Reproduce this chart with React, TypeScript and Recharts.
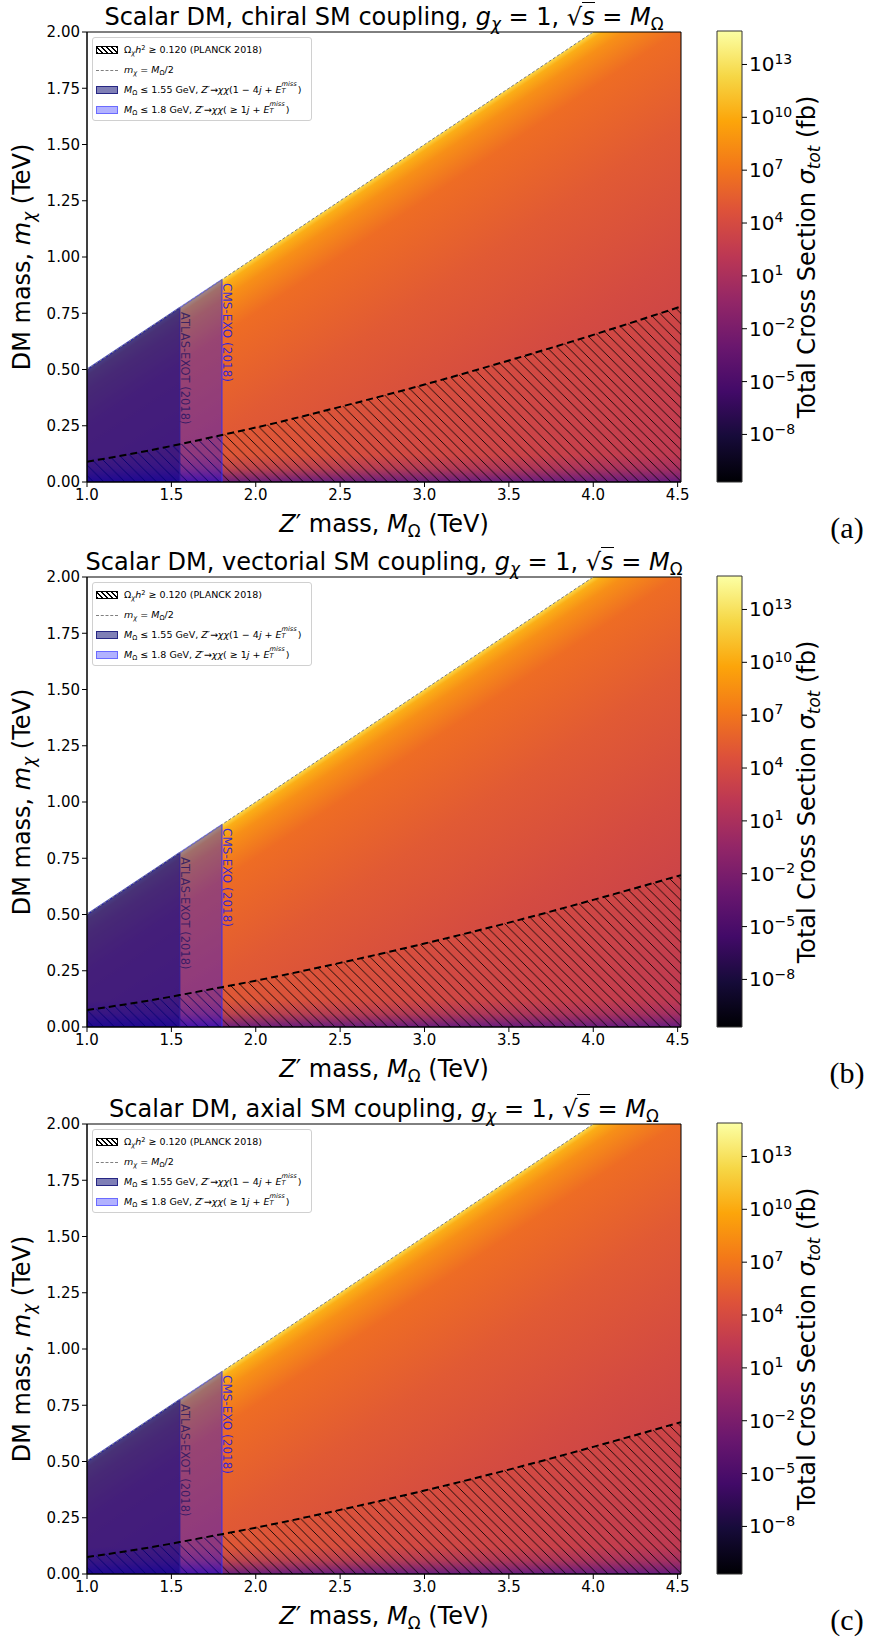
import React from 'react';
import {
  ComposedChart,
  Area,
  Line,
  XAxis,
  YAxis,
  ReferenceArea,
  ReferenceLine,
  ReferenceDot,
} from 'recharts';

const FONT = '"DejaVu Sans", "Noto Sans", sans-serif';

// ---------------- data ----------------
// Z' mass grid (TeV)
const massZ = [1.0, 1.5, 1.55, 1.8, 2.0, 2.5, 3.0, 3.5, 4.0, 4.52];
// upper edge of the coloured (kinematically open) region, m_chi <= M/2, capped at plot top
const kinematicEdge = [0.5, 0.75, 0.775, 0.9, 1.0, 1.25, 1.5, 1.75, 2.0, 2.0];
// m_chi = M/2 reference line
const halfMassLine = [0.5, 0.75, 0.775, 0.9, 1.0, 1.25, 1.5, 1.75, 2.0, null];
// relic density contour Omega h^2 = 0.120 for each coupling
const relicChiral = [0.09, 0.16, 0.168, 0.209, 0.242, 0.334, 0.433, 0.54, 0.654, 0.78];
const relicVectorial = [0.075, 0.135, 0.142, 0.177, 0.206, 0.285, 0.371, 0.464, 0.565, 0.675];
const relicAxial = [0.075, 0.135, 0.142, 0.177, 0.206, 0.285, 0.371, 0.464, 0.565, 0.675];
// experimental exclusion limits (Z' mass)
const atlasLimit = 1.55;
const cmsLimit = 1.8;
const atlasLabelAt = { M: 1.556, m: 0.755 };
const cmsLabelAt = { M: 1.806, m: 0.884 };
// low-m_chi suppressed band
const lowBandTop = 0.12;

const xTicks = [1.0, 1.5, 2.0, 2.5, 3.0, 3.5, 4.0, 4.5];
const yTicks = [0, 0.25, 0.5, 0.75, 1.0, 1.25, 1.5, 1.75, 2.0];
const xDomain: [number, number] = [1.0, 4.52];
const yDomain: [number, number] = [0, 2];

// colour bar: log10(sigma / fb)
const cbTicks = [-8, -5, -2, 1, 4, 7, 10, 13];
const cbDomain: [number, number] = [-10.7, 14.9];
const cbRows = [{ x: 0 }, { x: 1 }];

const couplings = ['chiral', 'vectorial', 'axial'];
const relicSets = [relicChiral, relicVectorial, relicAxial];
const panelLetters = ['(a)', '(b)', '(c)'];

// colours across the heat map (from threshold line toward bottom-right corner)
const heatStops: [number, string][] = [
  [0, '#fbd84a'],
  [0.012, '#fbae16'],
  [0.04, '#f78f17'],
  [0.11, '#ee6c24'],
  [0.3, '#e15a34'],
  [0.55, '#d44b41'],
  [0.8, '#c7404b'],
  [1.0, '#bb3755'],
];
const infernoStops: [number, string][] = [
  [0, '#000004'],
  [0.1, '#160b39'],
  [0.2, '#420a68'],
  [0.3, '#6a176e'],
  [0.4, '#932667'],
  [0.5, '#bc3754'],
  [0.6, '#dd513a'],
  [0.7, '#f37819'],
  [0.8, '#fca50a'],
  [0.9, '#f6d746'],
  [1.0, '#fcffa4'],
];

// ---------------- layout ----------------
const CHART_W = 700;
const CHART_H = 545;
const PLOT_LEFT = 87;
const PLOT_TOP = 32;
const PLOT_W = 594;
const PLOT_H = 450;
const PANEL_TOPS = [0, 545, 1092];

const Sub = ({ children }: { children: React.ReactNode }) => (
  <span style={{ fontSize: '0.7em', position: 'relative', top: '0.3em' }}>{children}</span>
);
const Sup = ({ children }: { children: React.ReactNode }) => (
  <span style={{ fontSize: '0.7em', position: 'relative', top: '-0.45em' }}>{children}</span>
);
const SubSup = ({ sub, sup }: { sub: string; sup: string }) => (
  <span
    style={{
      display: 'inline-block',
      position: 'relative',
      width: '2.45em',
      height: '1em',
      fontSize: '0.7em',
      lineHeight: 1,
      verticalAlign: 'top',
    }}
  >
    <span style={{ position: 'absolute', left: 0, top: '-0.55em' }}>
      <i>{sup}</i>
    </span>
    <span style={{ position: 'absolute', left: 0, top: '0.5em' }}>
      <i>{sub}</i>
    </span>
  </span>
);

const VertLabel = (props: any) => {
  const { viewBox, text, color, size, opacity } = props;
  const x = viewBox.x + viewBox.width / 2;
  const y = viewBox.y + viewBox.height / 2;
  return (
    <text
      x={x}
      y={y}
      transform={`rotate(90 ${x} ${y})`}
      fill={color}
      fillOpacity={opacity}
      fontSize={size}
      fontFamily={FONT}
      textAnchor="start"
    >
      {text}
    </text>
  );
};

const CbTick = (props: any) => {
  const { x, y, payload } = props;
  const e = payload.value as number;
  return (
    <text x={x} y={y} dy="0.35em" textAnchor="start" fontSize={20} fontFamily={FONT} fill="#000">
      10
      <tspan dy="-0.55em" fontSize={14}>
        {e < 0 ? `\u2212${-e}` : `${e}`}
      </tspan>
    </text>
  );
};

function ColorBar({ id }: { id: string }) {
  return (
    <ComposedChart
      width={120}
      height={CHART_H}
      data={cbRows}
      margin={{ top: 31, right: 20, bottom: CHART_H - 31 - 451, left: 17 }}
    >
      <defs>
        <linearGradient id={`inferno-${id}`} x1="0" y1="1" x2="0" y2="0">
          {infernoStops.map(([o, c]) => (
            <stop key={o} offset={o} stopColor={c} />
          ))}
        </linearGradient>
      </defs>
      <XAxis dataKey="x" type="number" domain={[0, 1]} hide />
      <YAxis
        type="number"
        orientation="right"
        domain={cbDomain}
        ticks={cbTicks}
        interval={0}
        width={58}
        allowDataOverflow
        axisLine={false}
        tickLine={{ stroke: '#000' }}
        tickSize={5}
        tick={<CbTick />}
      />
      <ReferenceArea
        x1={0}
        x2={1}
        y1={cbDomain[0]}
        y2={cbDomain[1]}
        fill={`url(#inferno-${id})`}
        fillOpacity={1}
        stroke="#333"
        strokeWidth={1}
        ifOverflow="visible"
      />
    </ComposedChart>
  );
}

const legendBox = { left: 92, top: 37, width: 220, height: 84 };

function Legend() {
  const rowY = (i: number) => 12 + 20 * i;
  const patch = (i: number, style: React.CSSProperties) => (
    <div
      style={{ position: 'absolute', left: 3, top: rowY(i) - 4, width: 22, height: 8, boxSizing: 'border-box', ...style }}
    />
  );
  const text = (i: number, content: React.ReactNode) => (
    <div
      style={{
        position: 'absolute',
        left: 31,
        top: rowY(i) - 5,
        fontSize: 9.5,
        lineHeight: 1,
        whiteSpace: 'nowrap',
        color: '#000',
      }}
    >
      {content}
    </div>
  );
  return (
    <div
      style={{
        position: 'absolute',
        ...legendBox,
        background: 'rgba(255,255,255,0.85)',
        border: '1px solid #d0d0d0',
        borderRadius: 3,
        boxSizing: 'border-box',
      }}
    >
      {patch(0, {
        border: '1.5px solid #000',
        background: 'repeating-linear-gradient(45deg, #000 0px, #000 1px, #fff 1px, #fff 3.5px)',
      })}
      {text(
        0,
        <>
          Ω<Sub><i>χ</i></Sub>
          <i>h</i>
          <Sup>2</Sup> ≥ 0.120 (PLANCK 2018)
        </>
      )}
      <div
        style={{ position: 'absolute', left: 3, top: rowY(1), width: 22, borderTop: '1px dashed #808080' }}
      />
      {text(
        1,
        <>
          <i>m</i>
          <Sub><i>χ</i></Sub> = <i>M</i>
          <Sub>Ω</Sub>/2
        </>
      )}
      {patch(2, { background: 'rgba(0,0,110,0.5)', border: '1.5px solid rgba(0,0,110,0.7)' })}
      {text(
        2,
        <>
          <i>M</i>
          <Sub>Ω</Sub> ≤ 1.55 GeV, <i>Z</i>′→<i>χχ</i>(1 − 4<i>j</i> + <i>E</i>
          <SubSup sub="T" sup="miss" />)
        </>
      )}
      {patch(3, { background: 'rgba(0,0,255,0.3)', border: '1.5px solid rgba(0,0,255,0.4)' })}
      {text(
        3,
        <>
          <i>M</i>
          <Sub>Ω</Sub> ≤ 1.8 GeV, <i>Z</i>′→<i>χχ</i>( ≥ 1<i>j</i> + <i>E</i>
          <SubSup sub="T" sup="miss" />)
        </>
      )}
    </div>
  );
}

function Panel({ idx }: { idx: number }) {
  const id = `p${idx}`;
  const relic = relicSets[idx];
  const rows = massZ.map((M, i) => ({
    M,
    heat: [0, kinematicEdge[i]],
    band: [0, lowBandTop],
    relicBand: [0, relic[i]],
    relic: relic[i],
    half: halfMassLine[i],
    cms: M <= cmsLimit ? [0, kinematicEdge[i]] : null,
    atlas: M <= atlasLimit ? [0, kinematicEdge[i]] : null,
  }));
  const edgeAt = (M: number) => kinematicEdge[massZ.indexOf(M)];
  const tickStyle = { fontSize: 15, fill: '#000', fontFamily: FONT };

  return (
    <div style={{ position: 'absolute', left: 0, top: PANEL_TOPS[idx], width: 869, height: CHART_H }}>
      <div style={{ position: 'absolute', left: 0, top: 0 }}>
        <ComposedChart
          width={CHART_W}
          height={CHART_H}
          data={rows}
          margin={{ top: PLOT_TOP, right: CHART_W - PLOT_LEFT - PLOT_W, bottom: 0, left: 0 }}
        >
          <defs>
            <linearGradient id={`heat-${id}`} x1="0.426" y1="0.375" x2="0.9865" y2="1.012">
              {heatStops.map(([o, c]) => (
                <stop key={o} offset={o} stopColor={c} />
              ))}
            </linearGradient>
            <linearGradient id={`band-${id}`} x1="0" y1="0" x2="0" y2="1">
              <stop offset={0} stopColor="#6a1c80" stopOpacity={0} />
              <stop offset={0.5} stopColor="#6a1c80" stopOpacity={0.3} />
              <stop offset={1} stopColor="#5c1884" stopOpacity={0.9} />
            </linearGradient>
            <pattern id={`hatch-${id}`} patternUnits="userSpaceOnUse" width="10.5" height="10.5">
              <path d="M-1,-1 L11.5,11.5 M-1,9.5 L1,11.5 M9.5,-1 L11.5,1" stroke="#000" strokeWidth={0.85} />
            </pattern>
          </defs>
          <XAxis
            dataKey="M"
            type="number"
            domain={xDomain}
            ticks={xTicks}
            interval={0}
            allowDataOverflow
            height={CHART_H - PLOT_TOP - PLOT_H}
            tickFormatter={(v: number) => v.toFixed(1)}
            tick={tickStyle}
            tickSize={5}
            tickLine={{ stroke: '#000' }}
            axisLine={{ stroke: '#000' }}
          />
          <YAxis
            type="number"
            domain={yDomain}
            ticks={yTicks}
            interval={0}
            allowDataOverflow
            width={PLOT_LEFT}
            tickFormatter={(v: number) => v.toFixed(2)}
            tick={tickStyle}
            tickSize={5}
            tickLine={{ stroke: '#000' }}
            axisLine={{ stroke: '#000' }}
          />
          <Area
            dataKey="heat"
            type="linear"
            fill={`url(#heat-${id})`}
            fillOpacity={1}
            stroke="none"
            isAnimationActive={false}
            activeDot={false}
          />
          <Area
            dataKey="band"
            type="linear"
            fill={`url(#band-${id})`}
            fillOpacity={1}
            stroke="none"
            isAnimationActive={false}
            activeDot={false}
          />
          <Area
            dataKey="relicBand"
            type="monotone"
            fill={`url(#hatch-${id})`}
            fillOpacity={1}
            stroke="none"
            isAnimationActive={false}
            activeDot={false}
          />
          <Area
            dataKey="cms"
            type="linear"
            fill="#0000ff"
            fillOpacity={0.36}
            stroke="#2a2aff"
            strokeOpacity={0.55}
            strokeWidth={1.5}
            isAnimationActive={false}
            activeDot={false}
          />
          <Area
            dataKey="atlas"
            type="linear"
            fill="#000080"
            fillOpacity={0.55}
            stroke="#1a1a90"
            strokeOpacity={0.5}
            strokeWidth={1.5}
            isAnimationActive={false}
            activeDot={false}
          />
          <ReferenceLine
            segment={[
              { x: atlasLimit, y: 0 },
              { x: atlasLimit, y: edgeAt(atlasLimit) },
            ]}
            stroke="#2a1a9a"
            strokeOpacity={0.6}
            strokeWidth={1.5}
          />
          <ReferenceLine
            segment={[
              { x: cmsLimit, y: 0 },
              { x: cmsLimit, y: edgeAt(cmsLimit) },
            ]}
            stroke="#3030ff"
            strokeOpacity={0.6}
            strokeWidth={1.5}
          />
          <Line
            dataKey="half"
            type="linear"
            stroke="#7f7f7f"
            strokeWidth={1}
            strokeDasharray="3 2"
            dot={false}
            activeDot={false}
            isAnimationActive={false}
          />
          <Line
            dataKey="relic"
            type="monotone"
            stroke="#000"
            strokeWidth={2}
            strokeDasharray="7 4"
            dot={false}
            activeDot={false}
            isAnimationActive={false}
          />
          <ReferenceDot
            x={atlasLabelAt.M}
            y={atlasLabelAt.m}
            r={0.5}
            fill="none"
            stroke="none"
            label={(p: any) => (
              <VertLabel {...p} text="ATLAS-EXOT (2018)" color="#1a1060" opacity={0.75} size={11.5} />
            )}
          />
          <ReferenceDot
            x={cmsLabelAt.M}
            y={cmsLabelAt.m}
            r={0.5}
            fill="none"
            stroke="none"
            label={(p: any) => (
              <VertLabel {...p} text="CMS-EXO (2018)" color="#1e1ee6" opacity={0.9} size={12} />
            )}
          />
          <ReferenceArea
            x1={xDomain[0]}
            x2={xDomain[1]}
            y1={yDomain[0]}
            y2={yDomain[1]}
            fill="none"
            stroke="#000"
            strokeWidth={1}
            ifOverflow="visible"
          />
        </ComposedChart>
      </div>
      <div style={{ position: 'absolute', left: 700, top: 0 }}>
        <ColorBar id={id} />
      </div>
      <div style={{ position: 'absolute', left: 0, top: 0 }}>
        <Legend />
      </div>
      {/* title */}
      <div
        style={{
          position: 'absolute',
          left: PLOT_LEFT - 40,
          width: PLOT_W + 80,
          top: 5,
          textAlign: 'center',
          fontSize: 24,
          lineHeight: 1,
          whiteSpace: 'nowrap',
        }}
      >
        Scalar DM, {couplings[idx]} SM coupling, <i>g</i>
        <Sub><i>χ</i></Sub> = 1, √<span style={{ borderTop: '1.5px solid #000' }}><i>s</i></span> = <i>M</i>
        <Sub>Ω</Sub>
      </div>
      {/* x label */}
      <div
        style={{
          position: 'absolute',
          left: PLOT_LEFT,
          width: PLOT_W,
          top: 512,
          textAlign: 'center',
          fontSize: 24,
          lineHeight: 1,
          whiteSpace: 'nowrap',
        }}
      >
        <i>Z</i>′ mass, <i>M</i>
        <Sub>Ω</Sub> (TeV)
      </div>
      {/* y label */}
      <div
        style={{
          position: 'absolute',
          left: 22,
          top: PLOT_TOP + PLOT_H / 2,
          transform: 'translate(-50%, -50%) rotate(-90deg)',
          fontSize: 24,
          lineHeight: 1,
          whiteSpace: 'nowrap',
        }}
      >
        DM mass, <i>m</i>
        <Sub><i>χ</i></Sub> (TeV)
      </div>
      {/* colour bar label */}
      <div
        style={{
          position: 'absolute',
          left: 807,
          top: PLOT_TOP + PLOT_H / 2,
          transform: 'translate(-50%, -50%) rotate(-90deg)',
          fontSize: 24,
          lineHeight: 1,
          whiteSpace: 'nowrap',
        }}
      >
        Total Cross Section <i>σ</i>
        <Sub><i>tot</i></Sub> (fb)
      </div>
      {/* panel letter */}
      <div
        style={{
          position: 'absolute',
          left: 847,
          top: 528,
          transform: 'translate(-50%, -50%)',
          fontFamily: '"Liberation Serif", serif',
          fontSize: 30,
          lineHeight: 1,
        }}
      >
        {panelLetters[idx]}
      </div>
    </div>
  );
}

export default function App() {
  return (
    <div
      style={{
        position: 'absolute',
        left: 0,
        top: 0,
        width: 869,
        height: 1641,
        background: '#fff',
        fontFamily: FONT,
        color: '#000',
        overflow: 'hidden',
      }}
    >
      {couplings.map((c, i) => (
        <Panel key={c} idx={i} />
      ))}
    </div>
  );
}
